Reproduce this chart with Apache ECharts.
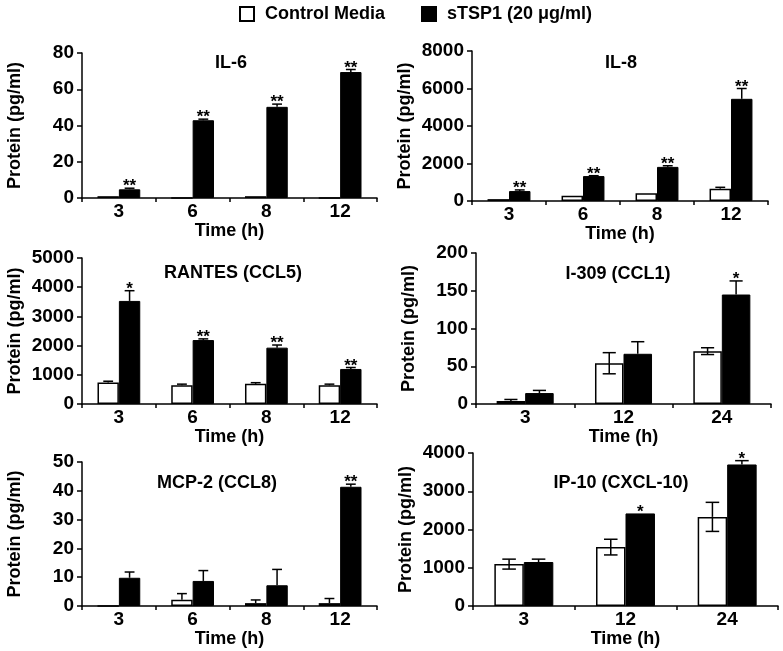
<!DOCTYPE html>
<html><head><meta charset="utf-8">
<script src="https://cdn.jsdelivr.net/npm/echarts@6/dist/echarts.min.js"></script>
<style>html,body{margin:0;padding:0;background:#fff}#c{width:783px;height:651px}</style>
</head><body><div id="c"></div>
<script>
// ---------- data ----------
const timeCats4 = ['3', '6', '8', '12'];
const timeCats3 = ['3', '12', '24'];

const il6Ctrl = [1.0, 0, 1.0, 0];
const il6CtrlErr = [0, 0, 0, 0];
const il6Tsp = [4.8, 42.9, 50.3, 69.5];
const il6TspErr = [0.6, 0.6, 1.5, 1.4];
const il6Sig = ['**', '**', '**', '**'];

const il8Ctrl = [100, 280, 420, 660];
const il8CtrlErr = [0, 0, 0, 70];
const il8Tsp = [530, 1330, 1820, 5450];
const il8TspErr = [60, 20, 60, 550];
const il8Sig = ['**', '**', '**', '**'];

const rantesCtrl = [740, 640, 690, 640];
const rantesCtrlErr = [40, 40, 40, 40];
const rantesTsp = [3530, 2190, 1930, 1200];
const rantesTspErr = [350, 40, 90, 50];
const rantesSig = ['*', '**', '**', '**'];

const i309Ctrl = [4, 54, 70];
const i309CtrlErr = [2, 14, 4.5];
const i309Tsp = [14.5, 66.5, 145];
const i309TspErr = [3.5, 16, 18];
const i309Sig = ['', '', '*'];

const mcp2Ctrl = [0, 2.2, 1.0, 1.0];
const mcp2CtrlErr = [0, 2.1, 1.1, 1.6];
const mcp2Tsp = [9.8, 8.7, 7.2, 41.4];
const mcp2TspErr = [2.0, 3.6, 5.5, 0.9];
const mcp2Sig = ['', '', '', '**'];

const ip10Ctrl = [1095, 1540, 2330];
const ip10CtrlErr = [130, 205, 380];
const ip10Tsp = [1150, 2420, 3700];
const ip10TspErr = [75, 0, 100];
const ip10Sig = ['', '*', '*'];

const yTitle = 'Protein (pg/ml)';
const xTitle = 'Time (h)';
const legendNames = ['Control Media', 'sTSP1 (20 \u03bcg/ml)'];

// ---------- layout ----------
const FONT = '"Liberation Sans", Arial, sans-serif';
const BAR_FRAC = 0.29;
const panels = [
  {title: 'IL-6', cats: timeCats4, ctrl: il6Ctrl, ctrlErr: il6CtrlErr, tsp: il6Tsp, tspErr: il6TspErr, sig: il6Sig, max: 80, interval: 20, two: false,
   rect: {left: 82, top: 53, width: 295, height: 145}, tpos: [231, 53]},
  {title: 'IL-8', cats: timeCats4, ctrl: il8Ctrl, ctrlErr: il8CtrlErr, tsp: il8Tsp, tspErr: il8TspErr, sig: il8Sig, max: 8000, interval: 2000, two: false,
   rect: {left: 472, top: 51, width: 296, height: 150}, tpos: [621, 53]},
  {title: 'RANTES (CCL5)', cats: timeCats4, ctrl: rantesCtrl, ctrlErr: rantesCtrlErr, tsp: rantesTsp, tspErr: rantesTspErr, sig: rantesSig, max: 5000, interval: 1000, two: false,
   rect: {left: 82, top: 258, width: 295, height: 146}, tpos: [233, 263]},
  {title: 'I-309 (CCL1)', cats: timeCats3, ctrl: i309Ctrl, ctrlErr: i309CtrlErr, tsp: i309Tsp, tspErr: i309TspErr, sig: i309Sig, max: 200, interval: 50, two: true,
   rect: {left: 476, top: 253, width: 295, height: 151}, tpos: [618, 264]},
  {title: 'MCP-2 (CCL8)', cats: timeCats4, ctrl: mcp2Ctrl, ctrlErr: mcp2CtrlErr, tsp: mcp2Tsp, tspErr: mcp2TspErr, sig: mcp2Sig, max: 50, interval: 10, two: false,
   rect: {left: 82, top: 462, width: 295, height: 144}, tpos: [217, 473]},
  {title: 'IP-10 (CXCL-10)', cats: timeCats3, ctrl: ip10Ctrl, ctrlErr: ip10CtrlErr, tsp: ip10Tsp, tspErr: ip10TspErr, sig: ip10Sig, max: 4000, interval: 1000, two: true,
   rect: {left: 473, top: 453, width: 305, height: 153}, tpos: [621, 473]}
];

function errRender(side, twoSided) {
  return function (params, api) {
    const cat = api.value(0), v = api.value(1), e = api.value(2);
    const band = api.size([1, 0])[0];
    const bw = band * BAR_FRAC;
    const p = api.coord([cat, v]);
    const cx = p[0] + side * bw / 2;
    const cap = bw * 0.23;
    const st = {stroke: '#000', lineWidth: 1.5};
    const ch = [];
    if (e > 0) {
      const yh = api.coord([cat, v + e])[1];
      ch.push({type: 'line', shape: {x1: cx, y1: p[1], x2: cx, y2: yh}, style: st});
      ch.push({type: 'line', shape: {x1: cx - cap, y1: yh, x2: cx + cap, y2: yh}, style: st});
      if (twoSided) {
        const yl = api.coord([cat, Math.max(0, v - e)])[1];
        ch.push({type: 'line', shape: {x1: cx, y1: p[1], x2: cx, y2: yl}, style: st});
        ch.push({type: 'line', shape: {x1: cx - cap, y1: yl, x2: cx + cap, y2: yl}, style: st});
      }
    }
    return {type: 'group', children: ch};
  };
}

function sigRender(sig) {
  return function (params, api) {
    const cat = api.value(0), top = api.value(1);
    const band = api.size([1, 0])[0];
    const bw = band * BAR_FRAC;
    const p = api.coord([cat, top]);
    const s = sig[params.dataIndex];
    if (!s) return null;
    return {type: 'text', x: p[0] + bw / 2, y: p[1] + 7,
      style: {text: s, font: 'bold 17px ' + FONT, fill: '#000', align: 'center', verticalAlign: 'bottom'}};
  };
}

const grid = [], xAxis = [], yAxis = [], series = [], title = [];
panels.forEach((pn, i) => {
  grid.push(Object.assign({containLabel: false}, pn.rect));
  title.push({text: pn.title, left: pn.tpos[0], top: pn.tpos[1] + 1, textAlign: 'center', padding: 0,
    textStyle: {fontFamily: FONT, fontWeight: 'bold', fontSize: 18, color: '#000'}});
  xAxis.push({type: 'category', gridIndex: i, data: pn.cats,
    name: xTitle, nameLocation: 'middle', nameGap: 23,
    nameTextStyle: {fontFamily: FONT, fontWeight: 'bold', fontSize: 18, color: '#000'},
    axisLine: {lineStyle: {color: '#000', width: 1.5}},
    axisTick: {show: true, length: 4, lineStyle: {color: '#000', width: 1.5}},
    axisLabel: {fontFamily: FONT, fontWeight: 'bold', fontSize: 19, color: '#000', margin: 4}});
  yAxis.push({type: 'value', gridIndex: i, min: 0, max: pn.max, interval: pn.interval,
    name: yTitle, nameLocation: 'middle', nameGap: 58, nameRotate: 90,
    nameTextStyle: {fontFamily: FONT, fontWeight: 'bold', fontSize: 18, color: '#000'},
    splitLine: {show: false},
    axisLine: {show: true, lineStyle: {color: '#000', width: 1.5}},
    axisTick: {show: true, length: 5, lineStyle: {color: '#000', width: 1.5}},
    axisLabel: {fontFamily: FONT, fontWeight: 'bold', fontSize: 19, color: '#000', margin: 8,
      formatter: function (v) { return String(v); }}});
  series.push({type: 'bar', name: legendNames[0], xAxisIndex: i, yAxisIndex: i, data: pn.ctrl,
    barWidth: (BAR_FRAC * 100) + '%', barGap: '0%',
    itemStyle: {color: '#fff', borderColor: '#000', borderWidth: 1.5}, z: 2});
  series.push({type: 'bar', name: legendNames[1], xAxisIndex: i, yAxisIndex: i, data: pn.tsp,
    barWidth: (BAR_FRAC * 100) + '%', barGap: '0%',
    itemStyle: {color: '#000', borderColor: '#000', borderWidth: 1}, z: 2});
  series.push({type: 'custom', xAxisIndex: i, yAxisIndex: i, z: 3,
    renderItem: errRender(-1, pn.two),
    data: pn.ctrl.map((v, k) => [k, v, pn.ctrlErr[k]]), encode: {x: 0, y: 1}});
  series.push({type: 'custom', xAxisIndex: i, yAxisIndex: i, z: 3,
    renderItem: errRender(1, false),
    data: pn.tsp.map((v, k) => [k, v, pn.tspErr[k]]), encode: {x: 0, y: 1}});
  series.push({type: 'custom', xAxisIndex: i, yAxisIndex: i, z: 4,
    renderItem: sigRender(pn.sig),
    data: pn.tsp.map((v, k) => [k, v + pn.tspErr[k]]), encode: {x: 0, y: 1}});
});

const chart = echarts.init(document.getElementById('c'), null, {renderer: 'canvas'});
chart.setOption({
  animation: false,
  backgroundColor: '#fff',
  title: title,
  legend: {left: 234, top: 0, itemWidth: 14, itemHeight: 14, itemGap: 36, icon: 'rect',
    data: legendNames,
    textStyle: {fontFamily: FONT, fontWeight: 'bold', fontSize: 18, color: '#000', padding: [0, 0, 0, 6]}},
  grid: grid, xAxis: xAxis, yAxis: yAxis, series: series
});
</script></body></html>
